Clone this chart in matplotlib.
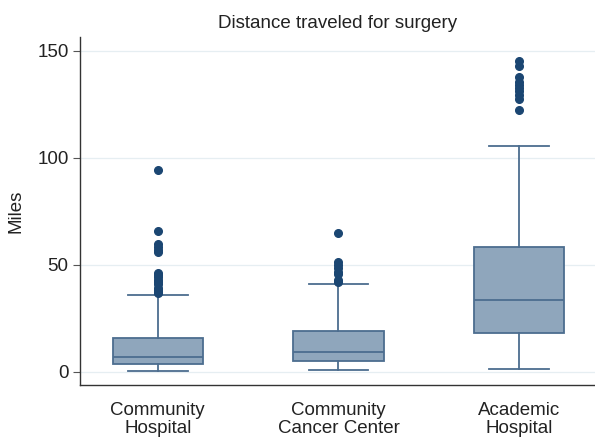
import matplotlib
matplotlib.use("Agg")
import matplotlib.pyplot as plt

plt.rcParams['font.family'] = ['Liberation Sans', 'DejaVu Sans']

categories = ["Community\nHospital", "Community\nCancer Center", "Academic\nHospital"]
whislo = [0.3, 0.8, 1.4]
q1 = [3.7, 4.7, 18.0]
med = [6.8, 9.3, 33.5]
q3 = [15.8, 18.8, 58.0]
whishi = [35.6, 40.7, 105.5]
fliers = [
    [94.0, 65.5, 59.5, 58.0, 57.0, 56.0, 46.0, 45.0, 44.0, 43.0, 42.0, 41.0, 39.0, 38.0, 37.0, 36.5],
    [64.8, 51.0, 49.8, 48.5, 46.5, 45.5, 43.0, 42.0],
    [145.0, 143.0, 137.5, 135.5, 134.0, 132.5, 131.0, 129.5, 127.5, 122.5],
]
yticks = [0, 50, 100, 150]

stats = []
for i in range(len(categories)):
    stats.append(dict(whislo=whislo[i], q1=q1[i], med=med[i], q3=q3[i],
                      whishi=whishi[i], fliers=fliers[i], label=categories[i]))

fig = plt.figure(figsize=(5.95, 4.38), dpi=100)
ax = fig.add_axes([0.134, 0.121, 0.866, 0.795])

edge = '#4c6d8f'
fill = '#8fa6bc'
ax.bxp(stats, positions=[1, 2, 3], widths=0.5, patch_artist=True,
       boxprops=dict(facecolor=fill, edgecolor=edge, linewidth=1.3),
       medianprops=dict(color=edge, linewidth=1.3),
       whiskerprops=dict(color=edge, linewidth=1.3),
       capprops=dict(color=edge, linewidth=1.3),
       capwidths=0.33,
       flierprops=dict(marker='o', markerfacecolor='#1b4672', markeredgecolor='#1b4672',
                       markersize=5.5, linestyle='none'))

fs = 13.5
ax.set_xlim(0.568, 3.42)
ax.set_ylim(-6.3, 156.5)
ax.set_yticks(yticks)
ax.set_yticklabels([str(v) for v in yticks], fontsize=fs, color='#222222')
ax.set_xticks([1, 2, 3])
ax.set_xticklabels(categories, fontsize=fs, color='#222222', linespacing=1.12)
ax.tick_params(axis='x', length=0, pad=12)
ax.tick_params(axis='y', length=5, width=0.8, color='#555555', pad=3)
ax.grid(axis='y', color='#e6eef2', linewidth=0.9)
ax.set_axisbelow(True)
for s in ['top', 'right']:
    ax.spines[s].set_visible(False)
for s in ['left', 'bottom']:
    ax.spines[s].set_color('#333333')
    ax.spines[s].set_linewidth(1.0)
ax.set_ylabel('Miles', fontsize=fs, color='#222222', labelpad=9)
ax.set_title('Distance traveled for surgery', fontsize=fs, color='#222222', pad=6, x=0.5)

fig.savefig('out.png', dpi=100)
